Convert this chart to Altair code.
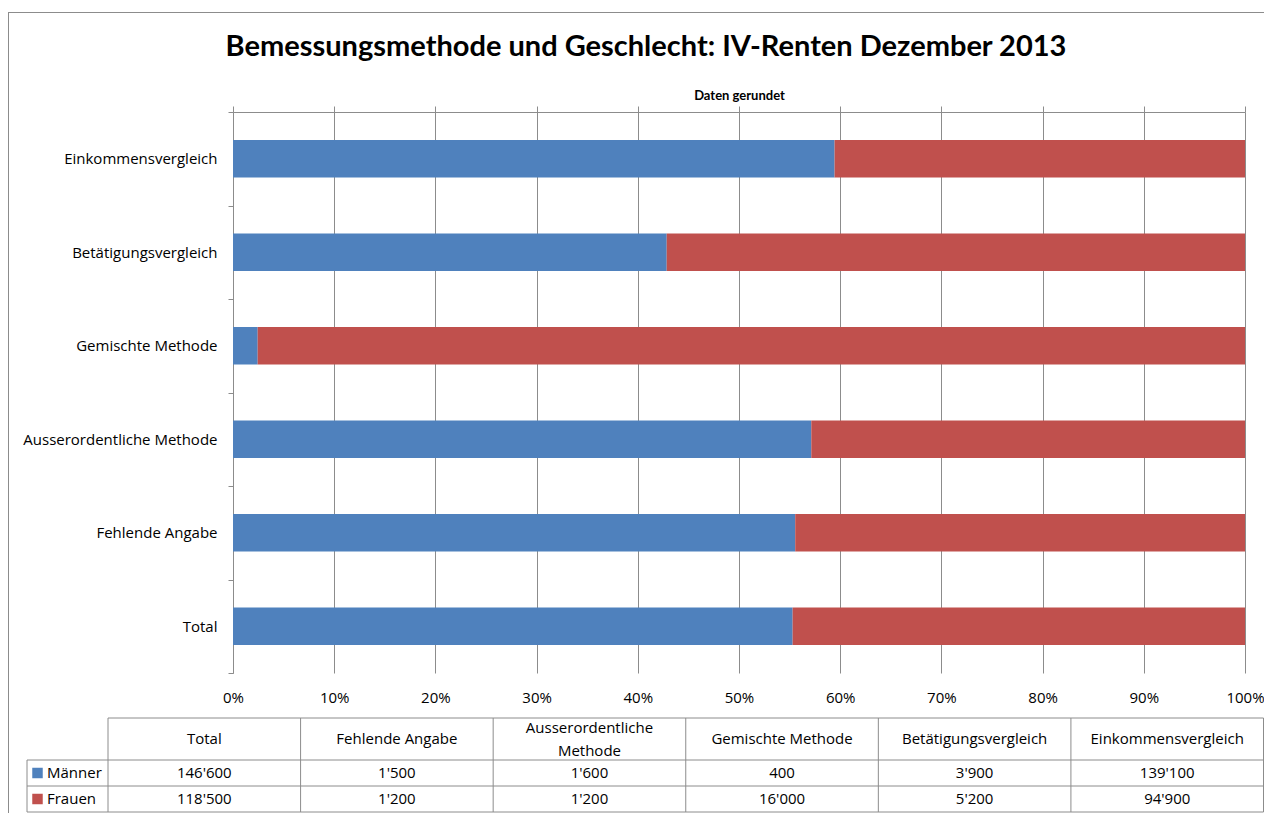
import altair as alt
import pandas as pd

# ---------------- data ----------------
categories = ["Total", "Fehlende Angabe", "Ausserordentliche Methode",
              "Gemischte Methode", "Betätigungsvergleich", "Einkommensvergleich"]
header_labels = ["Total", "Fehlende Angabe", "Ausserordentliche\nMethode",
                 "Gemischte Methode", "Betätigungsvergleich", "Einkommensvergleich"]
maenner = [146600, 1500, 1600, 400, 3900, 139100]
frauen = [118500, 1200, 1200, 16000, 5200, 94900]
series = ["Männer", "Frauen"]
series_colors = ["#4F81BD", "#C0504D"]
pct_ticks = [0.0, 0.1, 0.2, 0.3, 0.4, 0.5, 0.6, 0.7, 0.8, 0.9, 1.0]
title_text = "Bemessungsmethode und Geschlecht: IV-Renten Dezember 2013"
subtitle_text = "Daten gerundet"


def swiss(v):
    return f"{v:,}".replace(",", "'")


records = []
for i, cat in enumerate(categories):
    for k, (name, vals) in enumerate(zip(series, [maenner, frauen])):
        records.append({"category": cat, "gender": name, "value": vals[i],
                        "rank": k, "label": swiss(vals[i])})
df = pd.DataFrame(records)
hdr = pd.DataFrame({"category": categories, "header": header_labels})
hdr["lines"] = hdr["header"].str.count("\n") + 1
hdr_single = hdr[hdr["lines"] == 1]
hdr_multi = hdr[hdr["lines"] > 1]
legend_df = pd.DataFrame({"gender": series})
one = pd.DataFrame({"k": [0]})

# ---------------- layout / style ----------------
FONT = "Open Sans"
TFONT = "Lato"
GRID = "#8c8c8c"
W, H = 1012, 561
PAD = {"left": 225, "top": 104, "right": 19, "bottom": 140}
SVG_RIGHT = W + PAD["right"]          # right edge of the svg, plot coords
SVG_BOTTOM = H + PAD["bottom"]        # bottom edge of the svg, plot coords
TBL_LEFT, TBL_RIGHT = -125, 1030.5
ROWLBL_LEFT = -206
HDR_TOP, ROW_TOP, TBL_BOTTOM = 606, 648, 700
LBL_SIZE = 15
HDR_LINE = 23

y_sort = list(reversed(categories))
x_scale = alt.Scale(domain=[0, 1], nice=False)
y_scale = alt.Scale(paddingInner=0, paddingOuter=0)
color_scale = alt.Scale(domain=series, range=series_colors)
tx = alt.Scale(domain=categories, range=[TBL_LEFT, TBL_RIGHT], paddingInner=0, paddingOuter=0)
ty = alt.Scale(domain=series, range=[ROW_TOP, TBL_BOTTOM], paddingInner=0, paddingOuter=0)

bars = alt.Chart(df).mark_bar(height=alt.RelativeBandSize(0.4)).encode(
    x=alt.X("value:Q", stack="normalize", scale=x_scale,
            axis=alt.Axis(orient="top", values=pct_ticks, labels=False, ticks=True,
                          tickSize=6, tickColor=GRID, domain=True, domainColor=GRID,
                          grid=True, gridColor=GRID, gridOpacity=1,
                          title=subtitle_text, titleFont=TFONT, titleFontSize=13,
                          titleFontWeight="bold", titleColor="black", titlePadding=3)),
    y=alt.Y("category:N", sort=y_sort, scale=y_scale,
            axis=alt.Axis(title=None, orient="left", domainColor=GRID, tickColor=GRID,
                          tickSize=5, tickBand="extent", labelPadding=11, labelFont=FONT,
                          labelFontSize=LBL_SIZE, labelColor="black", labelLimit=400,
                          grid=False)),
    color=alt.Color("gender:N", scale=color_scale, legend=None),
    order=alt.Order("rank:Q", sort="ascending"),
)

ghost = alt.Chart(df).mark_bar(height=alt.RelativeBandSize(0.4), opacity=0).encode(
    x=alt.X("value:Q", stack="normalize", scale=x_scale,
            axis=alt.Axis(orient="bottom", values=pct_ticks, format=".0%", ticks=False,
                          domain=False, grid=False, labelPadding=17, labelFont=FONT,
                          labelFontSize=LBL_SIZE, labelColor="black", labelFlush=False,
                          labelOverlap=False, title=None)),
    y=alt.Y("category:N", sort=y_sort, scale=y_scale, axis=None),
    order=alt.Order("rank:Q", sort="ascending"),
)

title = alt.Chart(one).mark_text(font=TFONT, fontSize=29, fontWeight="bold",
                                 align="center", baseline="middle", color="black").encode(
    x=alt.value(413), y=alt.value(-65), text=alt.value(title_text))

frame_left = alt.Chart(one).mark_rule(color=GRID, strokeWidth=1).encode(
    x=alt.value(-PAD["left"] + 0.5), y=alt.value(-99.5), y2=alt.value(SVG_BOTTOM))
frame_top = alt.Chart(one).mark_rule(color=GRID, strokeWidth=1).encode(
    x=alt.value(-PAD["left"]), x2=alt.value(SVG_RIGHT), y=alt.value(-99.5))

hdr_text1 = alt.Chart(hdr_single).mark_text(font=FONT, fontSize=LBL_SIZE, baseline="middle",
                                            align="center", color="black").encode(
    x=alt.X("category:N", scale=tx, axis=None),
    y=alt.value((HDR_TOP + ROW_TOP) / 2),
    text="header:N")
hdr_text2 = alt.Chart(hdr_multi).mark_text(font=FONT, fontSize=LBL_SIZE, lineBreak="\n",
                                           lineHeight=HDR_LINE, baseline="middle",
                                           align="center", color="black").encode(
    x=alt.X("category:N", scale=tx, axis=None),
    y=alt.value((HDR_TOP + ROW_TOP) / 2 - HDR_LINE / 2),
    text="header:N")

val_text = alt.Chart(df).mark_text(font=FONT, fontSize=LBL_SIZE, baseline="middle",
                                   align="center", color="black").encode(
    x=alt.X("category:N", scale=tx, axis=None),
    y=alt.Y("gender:N", scale=ty, axis=None),
    text="label:N")

row_text = alt.Chart(legend_df).mark_text(font=FONT, fontSize=LBL_SIZE, baseline="middle",
                                          align="left", color="black").encode(
    x=alt.value(ROWLBL_LEFT + 20),
    y=alt.Y("gender:N", scale=ty, axis=None),
    text="gender:N")

row_keys = alt.Chart(legend_df).mark_square(size=110, opacity=1, filled=True).encode(
    x=alt.value(ROWLBL_LEFT + 10.5),
    y=alt.Y("gender:N", scale=ty, axis=None),
    color=alt.Color("gender:N", scale=color_scale, legend=None))

vlines = alt.Chart(hdr).mark_rule(color=GRID, strokeWidth=1).encode(
    x=alt.X("category:N", scale=tx, axis=None, bandPosition=0),
    y=alt.value(HDR_TOP), y2=alt.value(TBL_BOTTOM))
vline_end = alt.Chart(hdr.tail(1)).mark_rule(color=GRID, strokeWidth=1).encode(
    x=alt.X("category:N", scale=tx, axis=None, bandPosition=1),
    y=alt.value(HDR_TOP), y2=alt.value(TBL_BOTTOM))
vline_lbl = alt.Chart(one).mark_rule(color=GRID, strokeWidth=1).encode(
    x=alt.value(ROWLBL_LEFT), y=alt.value(ROW_TOP), y2=alt.value(TBL_BOTTOM))
hline_top = alt.Chart(one).mark_rule(color=GRID, strokeWidth=1).encode(
    x=alt.value(TBL_LEFT), x2=alt.value(TBL_RIGHT), y=alt.value(HDR_TOP))
hlines = alt.Chart(legend_df).mark_rule(color=GRID, strokeWidth=1).encode(
    x=alt.value(ROWLBL_LEFT), x2=alt.value(TBL_RIGHT),
    y=alt.Y("gender:N", scale=ty, axis=None, bandPosition=0))
hline_end = alt.Chart(legend_df.tail(1)).mark_rule(color=GRID, strokeWidth=1).encode(
    x=alt.value(ROWLBL_LEFT), x2=alt.value(TBL_RIGHT),
    y=alt.Y("gender:N", scale=ty, axis=None, bandPosition=1))

chart = alt.layer(
    frame_left, frame_top, bars, ghost, title,
    vlines, vline_end, vline_lbl, hline_top, hlines, hline_end,
    hdr_text1, hdr_text2, val_text, row_keys, row_text,
).resolve_scale(x="independent", y="independent").properties(
    width=W, height=H, padding=PAD, autosize=alt.AutoSizeParams(type="none"),
    background="white",
).configure_view(strokeWidth=0)

chart.save("out.html", embed_options={"renderer": "svg", "actions": False})
